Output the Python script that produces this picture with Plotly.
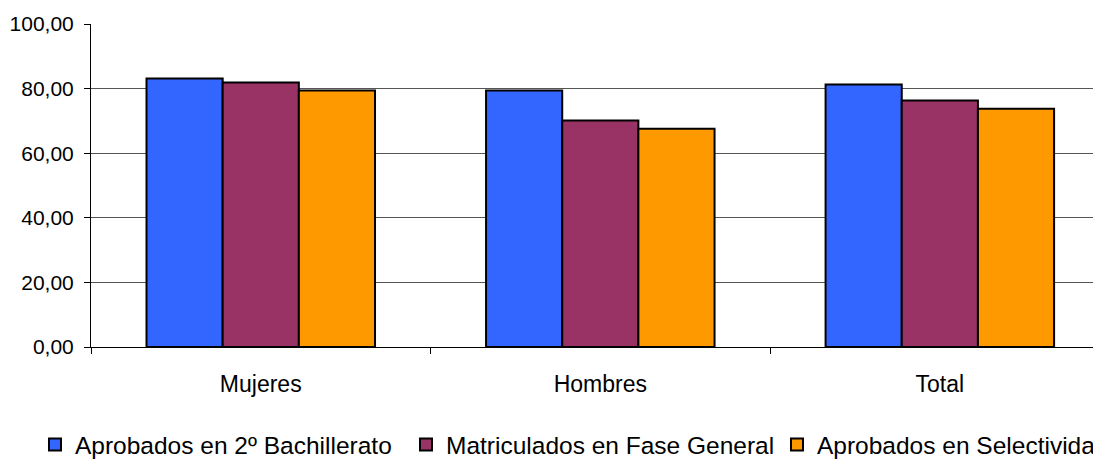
import plotly.graph_objects as go

categories = ["Mujeres", "Hombres", "Total"]
series_names = ["Aprobados en 2º Bachillerato", "Matriculados en Fase General", "Aprobados en Selectividad"]
aprobados_bach = [83.1, 79.4, 81.3]
matriculados_fg = [81.9, 70.1, 76.3]
aprobados_sel = [79.4, 67.6, 73.8]
colors = ["#3366FF", "#993366", "#FF9900"]
y_ticks = [0, 20, 40, 60, 80, 100]

fig = go.Figure()
for name, vals, col in zip(series_names, [aprobados_bach, matriculados_fg, aprobados_sel], colors):
    fig.add_trace(go.Bar(
        x=categories, y=vals, name=name,
        marker=dict(color=col, line=dict(color="#000000", width=2)),
    ))

fig.update_layout(
    width=1160, height=459,
    margin=dict(l=83, r=0, t=16, b=120, autoexpand=False),
    barmode="group", bargap=0.327, bargroupgap=0,
    paper_bgcolor="white", plot_bgcolor="white",
    separators=",.",
    font=dict(family="Liberation Sans, Arial, sans-serif", size=23, color="#000000"),
    showlegend=True,
    legend=dict(orientation="h", x=-0.052, xanchor="left", y=-0.302, yanchor="middle",
                font=dict(size=24.5), itemwidth=30, tracegroupgap=0,
                entrywidth=326, entrywidthmode="pixels",
                bgcolor="rgba(0,0,0,0)"),
    xaxis=dict(
        type="category", range=[-0.5, 2.672],
        showgrid=False, showline=True, linecolor="#000000", linewidth=1,
        ticks="outside", tickson="boundaries", ticklen=6, tickcolor="#000000",
        tickfont=dict(size=23), ticklabelstandoff=16, fixedrange=True,
    ),
    yaxis=dict(
        range=[0, 100], tickvals=y_ticks, tickformat=".2f",
        showgrid=True, gridcolor="#555555", gridwidth=1,
        showline=True, linecolor="#000000", linewidth=1,
        ticks="outside", ticklen=6, tickcolor="#000000",
        tickfont=dict(size=21), ticklabelstandoff=6, zeroline=False,
    ),
)

fig.write_html("out.html")
